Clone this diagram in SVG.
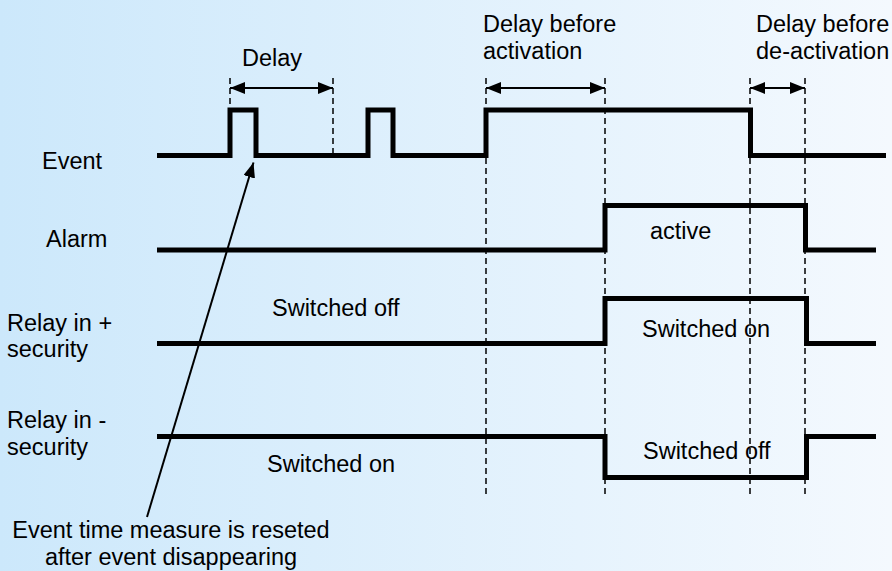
<svg xmlns="http://www.w3.org/2000/svg" width="892" height="571" viewBox="0 0 892 571">
  <defs>
    <linearGradient id="bg" x1="0" y1="0" x2="1" y2="0">
      <stop offset="0" stop-color="#cce8fb"/>
      <stop offset="1" stop-color="#f4f9fe"/>
    </linearGradient>
    <marker id="head" viewBox="0 0 15 12" refX="15" refY="6" markerWidth="15" markerHeight="12" markerUnits="userSpaceOnUse" orient="auto-start-reverse">
      <path d="M0,0 L15,6 L0,12 Z" fill="#000"/>
    </marker>
    <style>
      text { font-family: "Liberation Sans", Arial, sans-serif; font-size: 23.5px; fill: #000; }
      .sig { fill: none; stroke: #000; stroke-width: 5; stroke-linejoin: miter; stroke-linecap: butt; }
      .guide { fill: none; stroke: #000; stroke-width: 1.5; stroke-dasharray: 6 4; }
      .span { fill: none; stroke: #000; stroke-width: 2; marker-start: url(#head); marker-end: url(#head); }
      .ptr { fill: none; stroke: #000; stroke-width: 2; marker-end: url(#head); }
    </style>
  </defs>

  <rect x="0" y="0" width="892" height="571" fill="url(#bg)"/>

  <!-- signal names -->
  <g id="labels">
    <text x="42" y="169">Event</text>
    <text x="46" y="247">Alarm</text>
    <text x="7" y="331">Relay in +</text>
    <text x="7" y="357">security</text>
    <text x="7" y="428">Relay in -</text>
    <text x="7" y="455">security</text>
  </g>

  <!-- vertical time markers -->
  <g id="guides">
    <line class="guide" x1="230" y1="78" x2="230" y2="106"/>
    <line class="guide" x1="333" y1="78" x2="333" y2="155"/>
    <line class="guide" x1="486" y1="78" x2="486" y2="494"/>
    <line class="guide" x1="605" y1="78" x2="605" y2="494"/>
    <line class="guide" x1="750" y1="78" x2="750" y2="494"/>
    <line class="guide" x1="805" y1="78" x2="805" y2="494"/>
  </g>

  <!-- timing waveforms -->
  <g id="event">
    <path class="sig" d="M157,155.5 H230 V110 H256 V155.5 H368 V110 H393 V155.5 H486 V110 H750.5 V155.5 H886"/>
  </g>
  <g id="alarm">
    <path class="sig" d="M157,250 H605 V205.5 H805.5 V250 H876"/>
    <text x="650" y="239">active</text>
  </g>
  <g id="relay-plus">
    <path class="sig" d="M157,343.5 H605 V298.5 H806.5 V343.5 H876"/>
    <text x="272" y="316">Switched off</text>
    <text x="642" y="337">Switched on</text>
  </g>
  <g id="relay-minus">
    <path class="sig" d="M157,436.5 H605 V477.5 H806.5 V436.5 H876"/>
    <text x="267" y="472">Switched on</text>
    <text x="643" y="459">Switched off</text>
  </g>

  <!-- delay spans and callout -->
  <g id="connectors">
    <line class="span" x1="230" y1="88" x2="333" y2="88"/>
    <line class="span" x1="486" y1="88" x2="605" y2="88"/>
    <line class="span" x1="750" y1="88" x2="805" y2="88"/>
    <line class="ptr" x1="147" y1="517" x2="253.5" y2="162.5"/>
  </g>

  <g id="delay-labels">
    <text x="242" y="66">Delay</text>
    <text x="483" y="32">Delay before</text>
    <text x="483" y="59">activation</text>
    <text x="756" y="32">Delay before</text>
    <text x="756" y="59">de-activation</text>
  </g>

  <g id="note">
    <text x="171" y="538" text-anchor="middle">Event time measure is reseted</text>
    <text x="171" y="565" text-anchor="middle">after event disappearing</text>
  </g>
</svg>
